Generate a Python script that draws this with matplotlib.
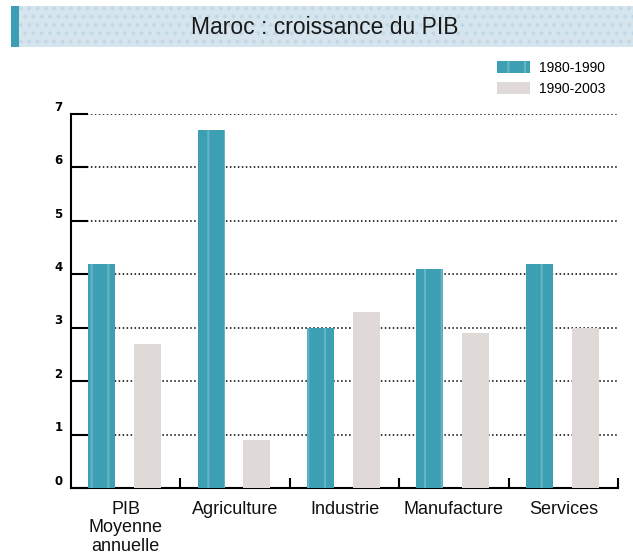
import matplotlib
matplotlib.use("Agg")
import matplotlib.pyplot as plt
import matplotlib.transforms as mtransforms
from matplotlib.patches import Rectangle, Patch
import numpy as np

# data
categories = ["PIB\nMoyenne\nannuelle", "Agriculture", "Industrie", "Manufacture", "Services"]
growth_1980_1990 = [4.2, 6.7, 3.0, 4.1, 4.2]
growth_1990_2003 = [2.7, 0.9, 3.3, 2.9, 3.0]
series_labels = ["1980-1990", "1990-2003"]
yticks = [0, 1, 2, 3, 4, 5, 6, 7]

teal = "#3d9fb4"
teal_light = "#66b4c4"
grey = "#dfdad8"

plt.rcParams["font.family"] = ["Liberation Sans", "DejaVu Sans"]
plt.rcParams["hatch.linewidth"] = 1.5

W, H = 633, 559
fig = plt.figure(figsize=(W / 100, H / 100), dpi=100)

# title band
band = Rectangle((11 / W, 1 - 47.5 / H), 1 - 11 / W, 41 / H, transform=fig.transFigure,
                 facecolor="#d5e4ed", edgecolor="#c2d8e6", hatch="..", linewidth=0)
stripe = Rectangle((11 / W, 1 - 47.5 / H), 8 / W, 41 / H, transform=fig.transFigure,
                   facecolor=teal, linewidth=0)
fig.patches.extend([band, stripe])
fig.text(325 / W, 1 - 27 / H, "Maroc : croissance du PIB", ha="center", va="center",
         fontsize=16.5, color="#1a1a1a")

ax = fig.add_axes([71 / W, 1 - 488 / H, (618 - 71) / W, (488 - 114) / H])

x = np.arange(len(categories))
ax.bar(x + 0.28, growth_1980_1990, width=0.247, color=teal, edgecolor=teal_light,
       hatch="|", linewidth=0, zorder=3)
ax.bar(x + 0.70, growth_1990_2003, width=0.247, color=grey, linewidth=0, zorder=3)

ax.set_xlim(0, len(categories))
ax.set_ylim(0, 7)
ax.set_yticks(yticks)
ax.set_yticklabels([str(v) for v in yticks], fontsize=8.5, fontweight="bold",
                   family="DejaVu Sans")
ax.set_xticks(x + 0.5)
ax.set_xticklabels(categories, fontsize=13, linespacing=1.15, color="#111111")
ax.set_xticks(np.arange(1, len(categories) + 1), minor=True)

ax.tick_params(axis="y", direction="in", length=12, width=1.5, pad=6)
ax.tick_params(axis="x", which="major", length=0, pad=9)
ax.tick_params(axis="x", which="minor", direction="in", length=7, width=1.5)

offset = mtransforms.ScaledTranslation(0, 6 / 72, fig.dpi_scale_trans)
for lab in ax.get_yticklabels():
    lab.set_transform(lab.get_transform() + offset)

ax.yaxis.grid(True, linestyle=(0, (1, 1.6)), color="black", linewidth=1.1, zorder=1)
ax.set_axisbelow(True)
for side in ["top", "right"]:
    ax.spines[side].set_visible(False)
for side in ["left", "bottom"]:
    ax.spines[side].set_linewidth(1.5)

handles = [Patch(facecolor=teal, edgecolor=teal_light, hatch="|", linewidth=0),
           Patch(facecolor=grey, linewidth=0)]
fig.legend(handles, series_labels, loc="upper left", bbox_to_anchor=(497 / W, 1 - 61 / H),
           frameon=False, fontsize=10, handlelength=2.4, handleheight=1.0,
           handletextpad=0.65, labelspacing=0.5, borderpad=0, borderaxespad=0)

fig.savefig("out.png", dpi=100)
